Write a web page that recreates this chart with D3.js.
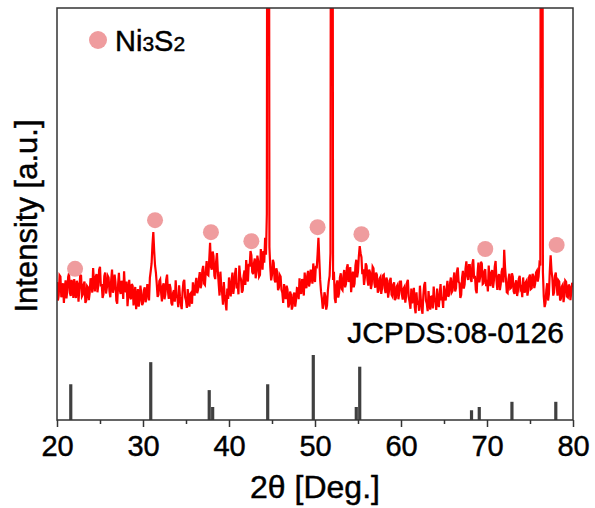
<!DOCTYPE html>
<html>
<head>
<meta charset="utf-8">
<script src="https://cdn.jsdelivr.net/npm/d3@7"></script>
<style>
  body { margin: 0; background: #fff; }
  text { font-family: "Liberation Sans", Arial, sans-serif; fill: #000; stroke: #000; stroke-width: 0.45px; }
</style>
</head>
<body>
<svg id="chart" width="595" height="508"></svg>
<script>
// measured XRD pattern, 2θ from 20 to 80 in 0.1 deg steps (one row = 2 deg)
const thetaStart = 20, thetaStep = 0.1;
const intensity = [
  33.5, 29.0, 30.2, 35.1, 34.8, 29.8, 31.0, 33.2, 28.4, 31.9, 33.9, 29.5, 31.5, 34.7, 35.6, 30.8, 30.1, 34.0, 32.8, 29.6,
  34.2, 31.1, 29.6, 33.8, 33.0, 28.7, 31.8, 35.2, 35.0, 30.0, 30.4, 32.9, 33.6, 28.4, 29.0, 32.5, 32.2, 29.1, 30.8, 34.4,
  33.8, 30.9, 36.9, 33.5, 31.2, 34.8, 35.4, 31.0, 32.6, 36.5, 37.2, 32.4, 33.0, 29.6, 30.5, 34.9, 35.8, 30.7, 32.1, 35.0,
  34.6, 31.2, 29.8, 34.0, 36.5, 30.9, 31.9, 35.3, 33.4, 29.0, 28.2, 32.8, 35.7, 31.5, 30.6, 33.8, 32.9, 29.4, 36.1, 31.8,
  31.0, 33.6, 27.6, 30.5, 34.0, 29.9, 29.3, 33.0, 32.5, 27.8, 30.0, 32.3, 26.9, 29.4, 31.8, 27.5, 29.0, 32.6, 30.7, 27.9,
  28.4, 31.5, 32.2, 28.6, 29.5, 33.0, 31.6, 29.0, 34.5, 36.2, 38.0, 42.5, 45.6, 41.0, 37.5, 35.8, 33.0, 29.9, 30.4, 33.7,
  34.1, 31.0, 28.8, 32.5, 33.2, 29.3, 30.5, 34.1, 35.3, 31.2, 29.4, 33.0, 32.0, 28.4, 27.8, 30.9, 31.5, 28.7, 33.9, 30.2,
  29.6, 27.4, 32.7, 30.0, 28.1, 26.9, 31.2, 33.5, 34.0, 29.8, 29.0, 27.2, 31.8, 29.5, 27.5, 30.6, 30.9, 28.2, 33.4, 31.0,
  30.2, 33.0, 34.5, 30.8, 31.6, 34.2, 35.9, 32.0, 33.0, 36.4, 37.4, 33.1, 32.8, 36.0, 38.6, 35.3, 35.1, 38.8, 43.0, 37.2,
  36.5, 40.9, 39.8, 35.0, 34.2, 38.4, 40.5, 36.1, 33.1, 30.2, 36.0, 32.4, 30.8, 28.0, 33.5, 30.1, 28.5, 26.6, 31.9, 29.4,
  34.6, 31.8, 30.0, 33.9, 35.8, 30.6, 32.4, 35.5, 36.9, 31.9, 33.2, 30.5, 37.5, 34.8, 34.1, 30.9, 31.5, 35.0, 36.3, 32.8,
  38.8, 35.1, 33.6, 37.9, 37.2, 41.0, 40.0, 35.9, 35.4, 38.1, 39.2, 34.4, 36.0, 39.9, 38.5, 34.8, 35.2, 41.5, 39.0, 36.5,
  41.0, 38.2, 44.2, 40.1, 50.0, 250, 250, 42.0, 37.0, 33.9, 35.2, 38.9, 38.1, 34.0, 33.4, 36.8, 36.0, 31.5, 32.1, 35.2,
  34.8, 31.6, 30.9, 28.4, 33.0, 30.1, 29.4, 32.6, 31.7, 27.3, 28.0, 31.2, 30.5, 26.8, 27.6, 30.4, 30.9, 27.5, 29.2, 32.0,
  31.9, 29.3, 34.4, 31.1, 30.6, 34.2, 33.5, 30.2, 35.8, 32.9, 32.0, 35.1, 36.2, 32.4, 33.4, 36.5, 35.0, 33.1, 38.0, 34.6,
  33.5, 37.4, 36.8, 40.2, 44.2, 39.0, 34.0, 31.2, 29.5, 27.0, 28.2, 31.0, 30.0, 26.8, 27.8, 31.5, 33.6, 35.0, 40.5, 250,
  250, 34.0, 36.0, 29.5, 28.4, 32.8, 33.9, 29.7, 30.8, 34.6, 35.6, 31.8, 31.5, 35.0, 36.4, 32.2, 33.0, 36.9, 37.8, 33.5,
  34.2, 37.1, 31.0, 33.8, 36.0, 32.2, 33.1, 37.5, 38.9, 34.6, 36.0, 39.8, 42.2, 40.5, 39.5, 35.4, 36.6, 32.8, 34.5, 38.0,
  37.4, 34.0, 32.6, 36.5, 35.9, 31.8, 33.0, 37.2, 36.8, 33.3, 32.1, 35.8, 35.2, 30.9, 31.4, 34.3, 34.7, 30.6, 32.0, 35.1,
  35.3, 32.0, 30.8, 34.6, 33.9, 29.7, 31.2, 33.8, 34.5, 30.4, 30.0, 32.9, 33.4, 29.1, 29.6, 32.4, 32.8, 29.3, 31.0, 33.6,
  33.6, 30.5, 29.2, 31.9, 32.3, 28.5, 30.1, 33.4, 34.0, 29.8, 28.6, 27.0, 31.9, 28.3, 29.5, 32.1, 27.4, 25.9, 31.0, 28.0,
  28.9, 26.5, 32.6, 29.4, 27.0, 25.8, 30.4, 32.8, 33.5, 29.0, 28.2, 26.4, 31.3, 28.6, 26.8, 29.9, 30.0, 27.1, 32.4, 29.5,
  28.6, 26.7, 31.9, 28.8, 27.4, 30.6, 33.0, 29.1, 29.8, 27.2, 32.6, 30.0, 29.0, 31.8, 33.8, 29.9, 30.5, 33.2, 34.6, 31.0,
  31.4, 34.1, 35.8, 31.2, 32.0, 36.0, 37.0, 33.5, 33.2, 29.6, 30.4, 34.5, 36.2, 31.9, 32.9, 36.7, 38.5, 35.0, 34.0, 37.6,
  37.6, 34.2, 33.5, 37.9, 39.0, 34.3, 35.0, 31.6, 30.8, 35.6, 38.2, 33.4, 34.6, 38.4, 37.9, 33.0, 33.2, 36.1, 36.6, 32.5,
  34.0, 31.2, 37.5, 33.8, 32.5, 35.8, 36.4, 32.1, 33.8, 37.2, 38.6, 34.0, 31.6, 34.8, 35.4, 31.5, 33.0, 36.0, 36.9, 33.4,
  41.3, 37.0, 34.2, 31.0, 30.8, 34.2, 35.5, 31.9, 32.1, 35.6, 34.8, 31.2, 30.6, 33.0, 33.9, 30.1, 31.4, 34.3, 35.0, 31.8,
  32.2, 29.8, 34.6, 31.6, 30.9, 33.4, 33.8, 30.2, 31.5, 34.7, 35.3, 31.8, 32.0, 35.5, 34.9, 32.0, 33.1, 35.8, 36.2, 33.6,
  34.8, 37.9, 37.5, 250, 250, 36.0, 30.0, 27.4, 28.4, 31.6, 33.2, 29.0, 30.6, 36.1, 40.0, 36.2, 34.5, 30.2, 31.0, 35.0,
  35.8, 32.6, 30.2, 33.9, 33.6, 29.0, 29.5, 32.4, 32.8, 28.6, 30.3, 33.8, 33.5, 30.0, 29.8, 32.9, 32.4, 29.1, 31.0, 33.3,
  32.2
];

// Ni3S2 peak markers (position, height above curve)
const markerTheta = [22.1, 31.4, 37.9, 42.6, 50.3, 55.4, 69.8, 78.1];
const markerLevel = [36.7, 48.5, 45.6, 43.4, 46.8, 45.1, 41.5, 42.5];

// JCPDS 08-0126 reference lines
const refTheta = [21.6, 30.9, 37.7, 38.1, 44.5, 49.8, 54.8, 55.2, 68.2, 69.1, 72.9, 78.0];
const refInt = [55, 89, 46, 20, 55, 100, 20, 82, 15, 20, 28, 28];

const majorTicks = [20, 30, 40, 50, 60, 70, 80];
const minorTicks = [25, 35, 45, 55, 65, 75];

const margin = { top: 8, right: 22, bottom: 88, left: 57 },
    width = 595 - margin.left - margin.right,
    height = 508 - margin.top - margin.bottom;

const svg = d3.select("#chart");
const chart = svg.append("g")
    .attr("transform", "translate(" + margin.left + "," + margin.top + ")");

const x = d3.scaleLinear().domain([20, 80]).range([0, width]);
const y = d3.scaleLinear().domain([0, 100]).range([height, 0]);
// reference stick scale, tallest stick 65px
const yRef = d3.scaleLinear().domain([0, 100]).range([height, height - 65]);

svg.append("defs").append("clipPath").attr("id", "clip")
  .append("rect").attr("width", width).attr("height", height);

// XRD curve
const curve = intensity.map((v, i) => [thetaStart + i * thetaStep, v]);
chart.append("path")
    .datum(curve)
    .attr("clip-path", "url(#clip)")
    .attr("fill", "none")
    .attr("stroke", "#ff0000")
    .attr("stroke-width", 2.2)
    .attr("d", d3.line().x(d => x(d[0])).y(d => y(d[1])));

// peak markers
chart.selectAll(".marker")
    .data(markerTheta)
    .join("circle")
    .attr("class", "marker")
    .attr("cx", d => x(d))
    .attr("cy", (d, i) => y(markerLevel[i]))
    .attr("r", 8)
    .attr("fill", "#ef9c9e");

// reference sticks
chart.selectAll(".stick")
    .data(refTheta)
    .join("line")
    .attr("class", "stick")
    .attr("x1", d => x(d)).attr("x2", d => x(d))
    .attr("y1", height)
    .attr("y2", (d, i) => yRef(refInt[i]))
    .attr("stroke", "#404040")
    .attr("stroke-width", 3.2);

// frame
chart.append("rect")
    .attr("width", width).attr("height", height)
    .attr("fill", "none")
    .attr("stroke", "#333")
    .attr("stroke-width", 1.5);

// x axis
const xAxis = chart.append("g")
    .attr("transform", "translate(0," + height + ")")
    .call(d3.axisBottom(x).tickValues(majorTicks).tickSize(7).tickPadding(8).tickFormat(d3.format("d")));
xAxis.select(".domain").remove();
xAxis.selectAll("line").attr("stroke", "#333").attr("stroke-width", 1.5);
xAxis.selectAll("text").attr("font-size", 29).attr("fill", "#000");

chart.append("g")
    .attr("transform", "translate(0," + height + ")")
    .call(d3.axisBottom(x).tickValues(minorTicks).tickSize(4).tickFormat(""))
    .call(g => g.select(".domain").remove())
    .selectAll("line").attr("stroke", "#333").attr("stroke-width", 1.5);

// axis titles
svg.append("text")
    .attr("x", margin.left + width / 2)
    .attr("y", 498)
    .attr("text-anchor", "middle")
    .attr("font-size", 32)
    .text("2θ [Deg.]");

svg.append("text")
    .attr("transform", "translate(37," + (margin.top + 208) + ") rotate(-90)")
    .attr("text-anchor", "middle")
    .attr("font-size", 31)
    .text("Intensity [a.u.]");

// legend
svg.append("circle").attr("cx", 98).attr("cy", 40).attr("r", 9).attr("fill", "#ef9c9e");
const leg = svg.append("text").attr("x", 115).attr("y", 51).attr("font-size", 29);
leg.append("tspan").text("Ni");
leg.append("tspan").attr("font-size", 21).text("3");
leg.append("tspan").text("S");
leg.append("tspan").attr("font-size", 21).text("2");

svg.append("text")
    .attr("x", 564)
    .attr("y", 343)
    .attr("text-anchor", "end")
    .attr("font-size", 30)
    .text("JCPDS:08-0126");
</script>
</body>
</html>
